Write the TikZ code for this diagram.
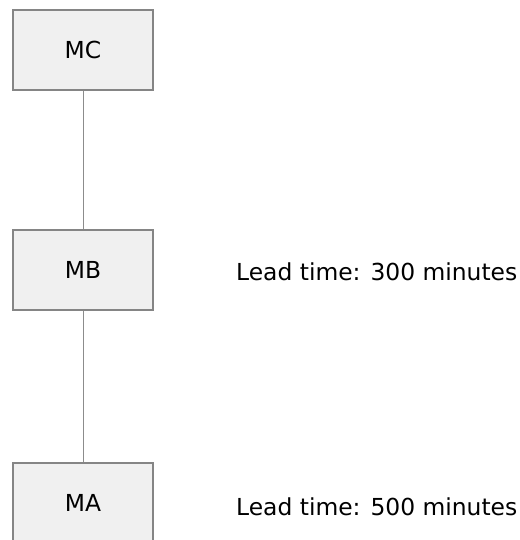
\documentclass[tikz,border=0pt]{standalone}
\usepackage{fontspec}
\setmainfont{DejaVu Sans}
\begin{document}
\begin{tikzpicture}[x=1pt,y=-1pt,
  mbox/.style={draw=black!48, line width=2pt, fill=black!6, minimum width=140pt, minimum height=80pt, inner sep=0pt, font=\fontsize{23.4}{27}\selectfont},
  conn/.style={draw=black!45, line width=1pt},
  lbl/.style={anchor=west, inner sep=0pt, font=\fontsize{23.4}{27}\selectfont}]
\useasboundingbox (0,0) rectangle (519,540);
\node[mbox] (mc) at (83,50) {MC};
\node[mbox] (mb) at (83,270) {MB};
\node[mbox] (ma) at (83,503) {MA};
\draw[conn] (mc) -- (mb);
\draw[conn] (mb) -- (ma);
\node[lbl] (lb) at (236,272) {Lead time: 300 minutes};
\node[lbl] (la) at (236,507) {Lead time: 500 minutes};
\end{tikzpicture}
\end{document}
